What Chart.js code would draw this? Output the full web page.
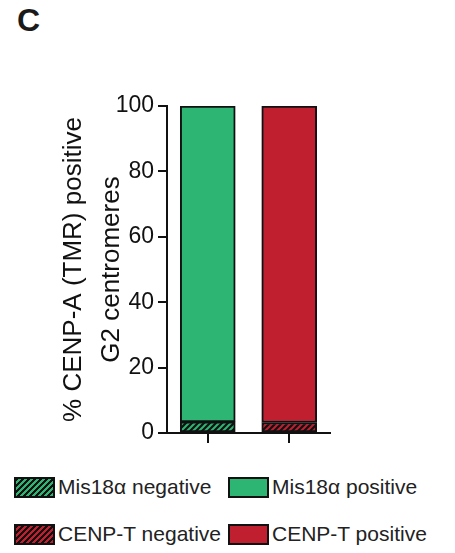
<!DOCTYPE html>
<html>
<head>
<meta charset="utf-8">
<script src="https://cdn.jsdelivr.net/npm/chart.js@4"></script>
<style>
  html, body { margin: 0; padding: 0; background: #fff; }
  body { width: 455px; height: 553px; position: relative; overflow: hidden; font-family: 'Liberation Sans', Arial, sans-serif; }
  #panel { position: absolute; left: 17px; top: 4px; font-size: 32px; font-weight: bold; line-height: 32px; color: #1a1a1a; }
  #wrap { position: absolute; left: 0; top: 0; width: 455px; height: 460px; }
  .leg { position: absolute; display: flex; align-items: center; font-size: 21px; color: #222; white-space: nowrap; }
  .sw { width: 41px; height: 21px; box-sizing: border-box; border: 2px solid #111; margin-right: 3px; }
</style>
</head>
<body>
<div id="panel">C</div>
<div id="wrap"><canvas id="chart"></canvas></div>
<div id="legend"></div>

<script>
// data
const categories     = ['Mis18α', 'CENP-T'];
const negativeValues = [3.4, 3.2];     // % negative (hatched)
const positiveValues = [96.6, 96.8];   // % positive
const yTicks         = [0, 20, 40, 60, 80, 100];
const seriesLabels   = ['Mis18α negative', 'Mis18α positive', 'CENP-T negative', 'CENP-T positive'];

const green = '#2db673';
const red   = '#c01f2f';
const ink   = '#111';

// diagonal hatch, coloured stripes on black
function hatch(color) {
    const c = document.createElement('canvas');
    c.width = 6; c.height = 6;
    const g = c.getContext('2d');
    g.fillStyle = ink;
    g.fillRect(0, 0, 6, 6);
    g.strokeStyle = color;
    g.lineWidth = 2;
    g.beginPath();
    g.moveTo(0, 6); g.lineTo(6, 0);
    g.moveTo(-1, 1); g.lineTo(1, -1);
    g.moveTo(5, 7); g.lineTo(7, 5);
    g.stroke();
    return g.createPattern(c, 'repeat');
}

function only(idx, v) { return categories.map((_, i) => i === idx ? v : null); }

const barStyle = { borderColor: ink, borderWidth: 2, borderSkipped: false, barThickness: 55 };

const datasets = [
    { label: seriesLabels[0], data: only(0, negativeValues[0]), backgroundColor: hatch(green), ...barStyle },
    { label: seriesLabels[1], data: only(0, positiveValues[0]), backgroundColor: green, ...barStyle },
    { label: seriesLabels[2], data: only(1, negativeValues[1]), backgroundColor: hatch(red), ...barStyle },
    { label: seriesLabels[3], data: only(1, positiveValues[1]), backgroundColor: red, ...barStyle },
];

const font = { family: "'Liberation Sans', Arial, sans-serif" };

new Chart(document.getElementById('chart'), {
    type: 'bar',
    data: { labels: categories, datasets },
    options: {
        responsive: true,
        maintainAspectRatio: false,
        animation: false,
        layout: { padding: { top: 106, right: 125, bottom: 15, left: 0 } },
        plugins: { legend: { display: false }, tooltip: { enabled: false } },
        scales: {
            x: {
                stacked: true,
                grid: { drawOnChartArea: false, offset: false, color: ink, lineWidth: 2, tickLength: 10 },
                border: { color: ink, width: 2 },
                ticks: { display: false },
                afterFit: s => { s.height = 12; }
            },
            y: {
                stacked: true,
                min: 0, max: 100,
                afterBuildTicks: s => { s.ticks = yTicks.map(v => ({ value: v })); },
                grid: { drawOnChartArea: false, color: ink, lineWidth: 2, tickLength: 9 },
                border: { color: ink, width: 2 },
                ticks: { color: ink, padding: 4, font: { ...font, size: 23 } },
                title: {
                    display: true,
                    text: ['% CENP-A (TMR) positive', 'G2 centromeres'],
                    color: ink,
                    font: { ...font, size: 26, lineHeight: 1.45 },
                    padding: { top: 55, bottom: 0 }
                },
                afterFit: s => { s.width = 167; }
            }
        }
    }
});

// legend, 2 x 2 like the figure
const legendPos = [
    { left: 14, top: 475 }, { left: 228, top: 475 },
    { left: 14, top: 522 }, { left: 228, top: 522 }
];
const swatches = [
    `repeating-linear-gradient(135deg, ${ink} 0 2px, ${green} 2px 4.2px)`,
    green,
    `repeating-linear-gradient(135deg, ${ink} 0 2px, ${red} 2px 4.2px)`,
    red
];
const legendEl = document.getElementById('legend');
seriesLabels.forEach((lab, i) => {
    const item = document.createElement('div');
    item.className = 'leg';
    item.style.left = legendPos[i].left + 'px';
    item.style.top = legendPos[i].top + 'px';
    item.innerHTML = `<span class="sw" style="background:${swatches[i]}"></span><span>${lab}</span>`;
    legendEl.appendChild(item);
});
</script>
</body>
</html>
